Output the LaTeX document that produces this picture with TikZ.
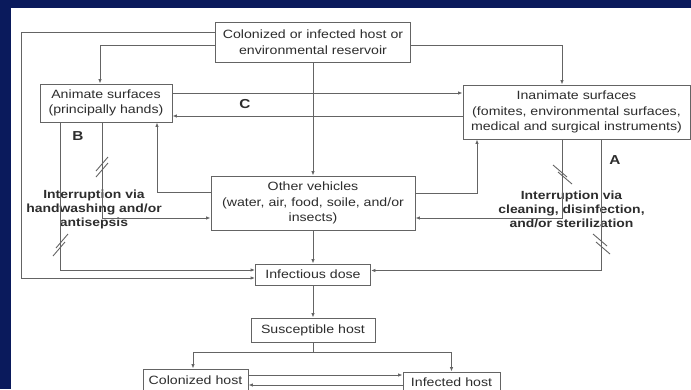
\documentclass[tikz,border=0pt]{standalone}
\usepackage{fontspec}
\setmainfont{Liberation Sans}[FakeStretch=1.18]
\usetikzlibrary{arrows.meta}
\definecolor{slidebg}{RGB}{10,26,92}
\definecolor{inkgray}{RGB}{45,45,45}
\definecolor{linegray}{RGB}{100,100,100}

\begin{document}
\begin{tikzpicture}[x=1pt, y=-1pt,
	    box/.style={
	            draw=linegray,
	            line width=0.9pt,
	            align=center,
	            inner sep=0pt,
	            text=inkgray,
	            font=\fontsize{12}{15.5}\selectfont
	            },
	    note/.style={
	            align=center,
	            inner sep=0pt,
	            text=inkgray,
	            font=\bfseries\fontsize{11.8}{14}\selectfont
	            },
	    tag/.style={
	            inner sep=0pt,
	            text=inkgray,
	            font=\bfseries\fontsize{13}{13}\selectfont
	            },
	    >={Latex[length=4.5pt,width=3.5pt]},
	    draw=linegray,
	    line width=0.9pt]

	    \useasboundingbox (0,0) rectangle (691,389);
	    \fill[slidebg] (0,0) rectangle (691,389);
	    \fill[white] (11,8) rectangle (691,389);

	    \node[box, minimum width=195pt, minimum height=40pt] (res) at (313,42) {Colonized or infected host or\\environmental reservoir};
	    \node[box, minimum width=132pt, minimum height=38pt] (anim) at (106,103) {Animate surfaces\\(principally hands)};
	    \node[box, minimum width=227pt, minimum height=54pt] (inan) at (576.5,112) {Inanimate surfaces\\(fomites, environmental surfaces,\\medical and surgical instruments)};
	    \node[box, minimum width=204pt, minimum height=54pt] (veh) at (313,203) {Other vehicles\\(water, air, food, soile, and/or\\insects)};
	    \node[box, minimum width=115pt, minimum height=21pt] (dose) at (313,274.5) {Infectious dose};
	    \node[box, minimum width=124pt, minimum height=24pt] (susc) at (313,330) {Susceptible host};
	    \node[box, minimum width=105pt, minimum height=22pt] (colo) at (195.5,380) {Colonized host};
	    \node[box, minimum width=97pt, minimum height=20pt] (inf) at (451.5,382) {Infected host};

	    \node[tag] (B) at (78,136) {B};
	    \node[tag] (C) at (245,104) {C};
	    \node[tag] (A) at (615,160) {A};
	    \node[note] (hand) at (94,209) {Interruption via\\handwashing and/or\\antisepsis};
	    \node[note] (clean) at (571.5,209) {Interruption via\\cleaning, disinfection,\\and/or sterilization};

	    \draw[->] ([yshift=10pt]res.west) -- ++(-193.5,0) |- ([yshift=-3.5pt]dose.west);
	    \draw[->] ([yshift=-3pt]res.west) -| ([xshift=-6pt]anim.north);
	    \draw[->] ([yshift=-3pt]res.east) -| ([xshift=-14.5pt]inan.north);
	    \draw[->] (res) -- (veh);

	    \draw[->] ([yshift=10pt]anim.east) -- ([yshift=10pt]anim.east -| inan.west);
	    \draw[->] ([yshift=-4pt]inan.west) -- ([yshift=-4pt]inan.west -| anim.east);

	    \draw[->] ([yshift=11pt]veh.west) -| ([xshift=51pt]anim.south);
	    \draw[->] ([xshift=-4pt]anim.south) |- ([yshift=-15pt]veh.west);
	    \draw[->] ([xshift=-46pt]anim.south) |- ([yshift=4.5pt]dose.west);

	    \draw[->] ([yshift=10pt]veh.east) -| ([xshift=-99.5pt]inan.south);
	    \draw[->] ([xshift=-14.5pt]inan.south) |- ([yshift=-15pt]veh.east);
	    \draw[->] ([xshift=24.5pt]inan.south) |- ([yshift=4pt]dose.east);

	    \draw[->] (veh) -- (dose);
	    \draw[->] (dose) -- (susc);
	    \draw[->] (susc.south) -- ++(0,10) -| ([xshift=-2.5pt]colo.north);
	    \draw[->] (susc.south) -- ++(0,10) -| (inf.north);
	    \draw[->] ([yshift=5pt]colo.east) -- ([yshift=5pt]colo.east -| inf.west);
	    \draw[->] ([yshift=-5pt]colo.east -| inf.west) -- ([yshift=-5pt]colo.east);

	    \foreach \x/\y in {102/164, 102/170, 62/241, 59/249}
	        \draw (\x-6,\y+7) -- (\x+6,\y-7);
	    \foreach \x/\y in {560/171, 565/178, 600/240, 603/248}
	        \draw (\x-7,\y-6) -- (\x+7,\y+6);

	\end{tikzpicture}
\end{document}
